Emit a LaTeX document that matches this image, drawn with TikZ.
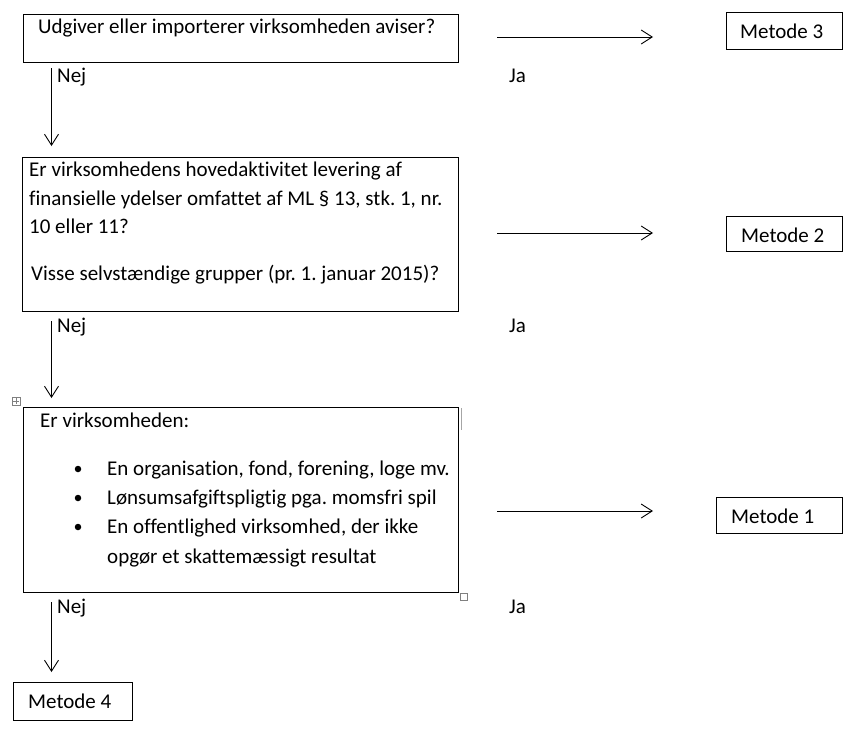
\documentclass[tikz,border=0pt]{standalone}
\usepackage{fontspec}
\setmainfont{Carlito}[Ligatures={NoCommon}]
\usetikzlibrary{arrows.meta,calc}
\frenchspacing
\begin{document}
\begin{tikzpicture}[x=1pt,y=-1pt,
  box/.style={draw, line width=1pt, inner sep=0pt, anchor=north west},
  txt/.style={anchor=base west, inner sep=0pt, font=\fontsize{21}{25}\selectfont},
  arr/.style={line width=0.9pt, -{Straight Barb[length=11pt,width=14pt,line width=0.9pt]}},
  bul/.style={circle, fill, inner sep=0pt, minimum size=6.5pt},
  handle/.style={draw=gray, line width=0.7pt, inner sep=0pt, minimum size=8pt}
  ]
\useasboundingbox (0,0) rectangle (858,734);
% question boxes
\node[box, minimum width=435pt, minimum height=48pt] (q1) at (23,14) {};
\node[txt] (q1t) at (38,33) {Udgiver eller importerer virksomheden aviser?};
\node[box, minimum width=436pt, minimum height=154pt] (q2) at (22,157) {};
\node[txt] (q2a) at (29,176) {Er virksomhedens hovedaktivitet levering af};
\node[txt] (q2b) at (29,205) {finansielle ydelser omfattet af ML § 13, stk. 1, nr.};
\node[txt] (q2c) at (29,233) {10 eller 11?};
\node[txt] (q2d) at (31,280) {Visse selvstændige grupper (pr. 1. januar 2015)?};
\node[box, minimum width=435pt, minimum height=185pt] (q3) at (23,407) {};
\node[txt] (q3a) at (40,427) {Er virksomheden:};
\node[bul] (b1) at (78,469) {};
\node[bul] (b2) at (78,498) {};
\node[bul] (b3) at (78,527) {};
\node[txt] (q3b) at (107,475) {En organisation, fond, forening, loge mv.};
\node[txt] (q3c) at (107,504) {Lønsumsafgiftspligtig pga. momsfri spil};
\node[txt] (q3d) at (107,533) {En offentlighed virksomhed, der ikke};
\node[txt] (q3e) at (107,563) {opgør et skattemæssigt resultat};
% word handles
\node[handle, anchor=north west] (mv) at (12,397) {};
\draw[gray, line width=0.5pt] ($(mv.center)+(-3,0)$) -- ($(mv.center)+(3,0)$);
\draw[gray, line width=0.5pt] ($(mv.center)+(0,-3)$) -- ($(mv.center)+(0,3)$);
\node[handle, anchor=north west, minimum size=7pt] (rs) at (460,593) {};
\coordinate (gl1) at (461,408);
\coordinate (gl2) at (461,430);
\draw[gray!70, line width=0.8pt] (gl1) -- (gl2);
% method boxes
\node[box, minimum width=116pt, minimum height=37pt] (m3) at (726,12) {};
\node[txt] (m3t) at (740,38) {Metode 3};
\node[box, minimum width=116pt, minimum height=35pt] (m2) at (726,216) {};
\node[txt] (m2t) at (741,242) {Metode 2};
\node[box, minimum width=126pt, minimum height=36pt] (m1) at (716,497) {};
\node[txt] (m1t) at (731,523) {Metode 1};
\node[box, minimum width=119pt, minimum height=38pt] (m4) at (13,682) {};
\node[txt] (m4t) at (28,708) {Metode 4};
% labels
\node[txt] (n1) at (57,82) {Nej};
\node[txt] (n2) at (57,332) {Nej};
\node[txt] (n3) at (57,613) {Nej};
\node[txt] (j1) at (509,82) {Ja};
\node[txt] (j2) at (509,332) {Ja};
\node[txt] (j3) at (509,613) {Ja};
% arrows
\coordinate (h1s) at (497,37);  \coordinate (h1e) at (653,37);
\coordinate (h2s) at (497,233); \coordinate (h2e) at (653,233);
\coordinate (h3s) at (497,511); \coordinate (h3e) at (653,511);
\coordinate (v1s) at (51.5,68);  \coordinate (v1e) at (51.5,146);
\coordinate (v2s) at (51.5,321); \coordinate (v2e) at (51.5,398);
\coordinate (v3s) at (51.5,602); \coordinate (v3e) at (51.5,672);
\draw[arr] (h1s) -- (h1e);
\draw[arr] (h2s) -- (h2e);
\draw[arr] (h3s) -- (h3e);
\draw[arr] (v1s) -- (v1e);
\draw[arr] (v2s) -- (v2e);
\draw[arr] (v3s) -- (v3e);
\end{tikzpicture}
\end{document}
